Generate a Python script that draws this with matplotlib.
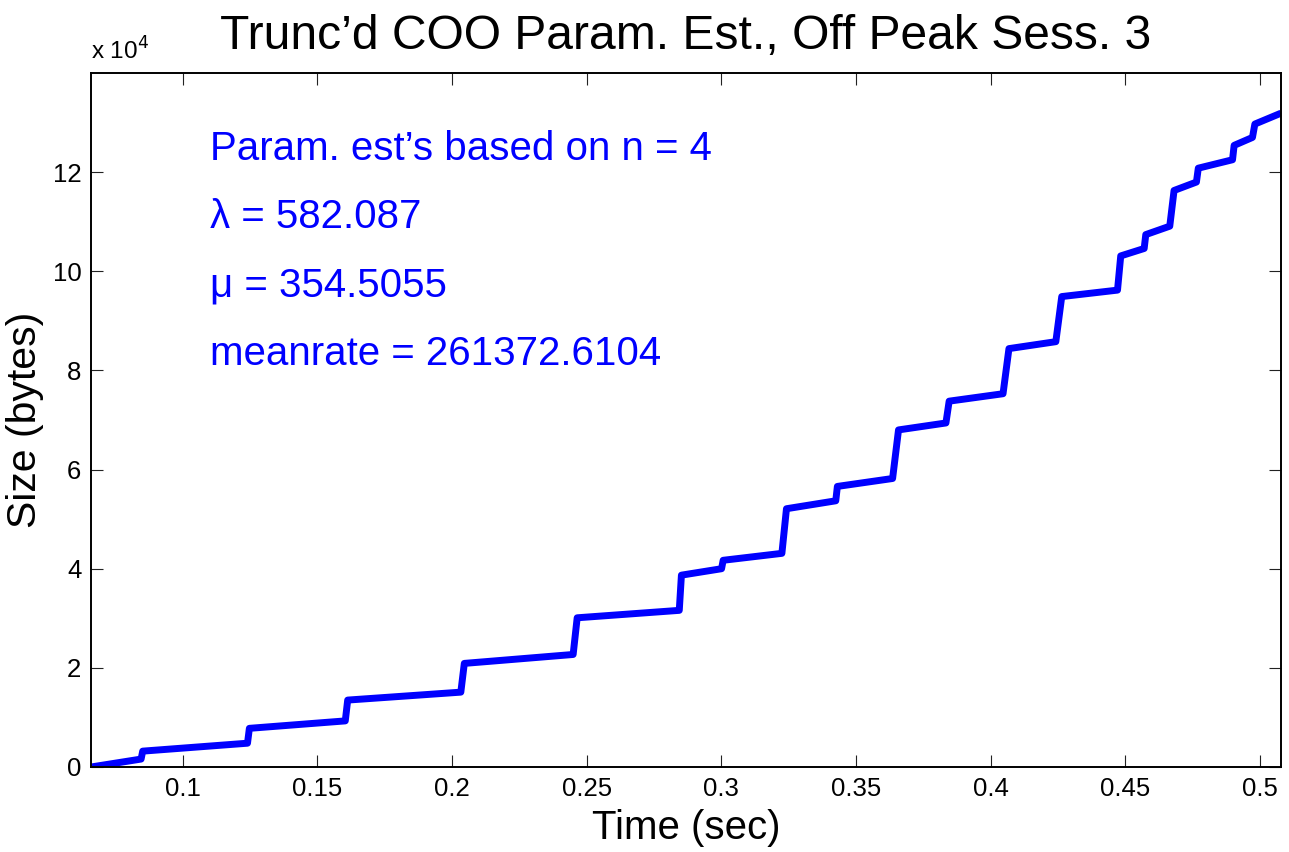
import matplotlib
matplotlib.use("Agg")
import matplotlib.pyplot as plt

# Data (time in sec, size in bytes)
time_sec = [0.0660, 0.0846, 0.0852, 0.1241, 0.1248, 0.1604, 0.1613, 0.2033, 0.2046,
            0.2450, 0.2465, 0.2844, 0.2852, 0.3001, 0.3007, 0.3225, 0.3242, 0.3425,
            0.3431, 0.3636, 0.3658, 0.3834, 0.3846, 0.4046, 0.4068, 0.4242, 0.4264,
            0.4471, 0.4483, 0.4570, 0.4576, 0.4665, 0.4681, 0.4764, 0.4771, 0.4898,
            0.4904, 0.4972, 0.4981, 0.5078]
size_bytes = [0, 1600, 3200, 4800, 7800, 9300, 13500, 15100, 20900,
              22700, 30100, 31600, 38700, 40000, 41700, 43100, 52100, 53700,
              56600, 58200, 68000, 69400, 73800, 75300, 84400, 85800, 94900,
              96200, 103100, 104600, 107400, 109100, 116300, 118000, 120800, 122500,
              125400, 127000, 129700, 131900]

title = "Trunc\u2019d COO Param. Est., Off Peak Sess. 3"
xlabel = "Time (sec)"
ylabel = "Size (bytes)"
xticks = [0.1, 0.15, 0.2, 0.25, 0.3, 0.35, 0.4, 0.45, 0.5]
xticklabels = ["0.1", "0.15", "0.2", "0.25", "0.3", "0.35", "0.4", "0.45", "0.5"]
yticks = [0, 20000, 40000, 60000, 80000, 100000, 120000]
yticklabels = ["0", "2", "4", "6", "8", "10", "12"]
annotations = ["Param. est\u2019s based on n = 4",
               "\u03bb = 582.087",
               "\u03bc = 354.5055",
               "meanrate = 261372.6104"]
annotation_y = [122550, 108740, 94870, 81150]

plt.rcParams['font.family'] = ['Liberation Sans', 'DejaVu Sans']

W, H = 1289, 852
fig = plt.figure(figsize=(W / 100, H / 100), dpi=100)
ax = fig.add_axes([91 / W, (H - 767) / H, (1281 - 91) / W, (767 - 73) / H])

ax.plot(time_sec, size_bytes, color='#0000ff', linewidth=5.0, solid_joinstyle='round',
        solid_capstyle='butt')

ax.set_xlim(min(time_sec), max(time_sec))
ax.set_ylim(0, 140000)
ax.set_xticks(xticks)
ax.set_xticklabels(xticklabels)
ax.set_yticks(yticks)
ax.set_yticklabels(yticklabels)
ax.tick_params(direction='in', length=8.5, width=0.8, top=True, right=True,
               labelsize=18.5, colors='#222222', labelcolor='black', pad=7)
for s in ax.spines.values():
    s.set_linewidth(1.4)

ax.set_xlabel(xlabel, fontsize=29, labelpad=6)
ax.set_ylabel(ylabel, fontsize=29.5)
ax.yaxis.set_label_coords(-0.0395, 0.5)
ax.set_title(title, fontsize=34.6, pad=17)

ax.text(0.0, 1.012, "x 10$^{4}$", transform=ax.transAxes, fontsize=17.5,
        ha='left', va='bottom')

for txt, yv in zip(annotations, annotation_y):
    ax.text(0.1100, yv, txt, color='#0000ff', fontsize=29, ha='left', va='baseline')

fig.savefig("out.png", dpi=100)
